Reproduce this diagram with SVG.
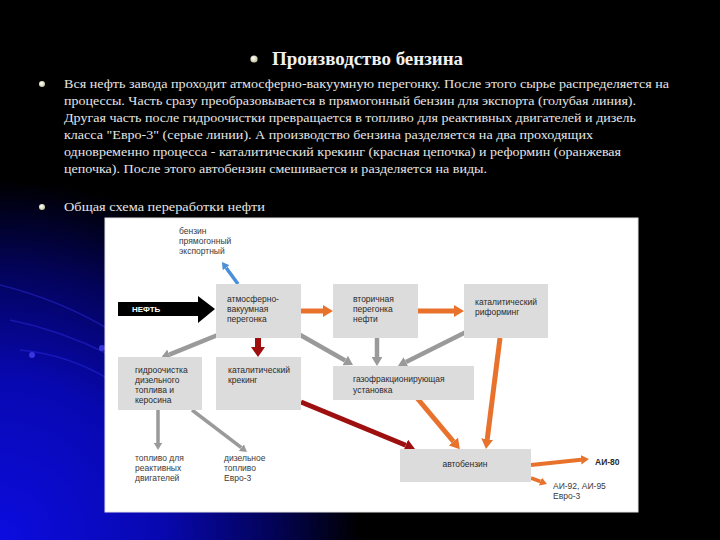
<svg xmlns="http://www.w3.org/2000/svg" width="720" height="540" viewBox="0 0 720 540">
<defs>
<radialGradient id="bg" cx="0" cy="540" r="360" gradientUnits="userSpaceOnUse">
<stop offset="0" stop-color="#0c0ce0"/>
<stop offset="0.45" stop-color="#0808b0"/>
<stop offset="0.75" stop-color="#03035a"/>
<stop offset="1" stop-color="#000000"/>
</radialGradient>
<radialGradient id="bul" cx="0.4" cy="0.4" r="0.6">
<stop offset="0" stop-color="#ffffff"/>
<stop offset="1" stop-color="#c8c8a0"/>
</radialGradient>
<marker id="mg" markerUnits="strokeWidth" viewBox="0 0 10 12" refX="0" refY="6" markerWidth="2" markerHeight="2.4" orient="auto"><path d="M0,0 L10,6 L0,12 z" fill="#9a9a9a"/></marker>
<marker id="mo" markerUnits="strokeWidth" viewBox="0 0 10 12" refX="0" refY="6" markerWidth="2" markerHeight="2.4" orient="auto"><path d="M0,0 L10,6 L0,12 z" fill="#e8722c"/></marker>
<marker id="mr" markerUnits="strokeWidth" viewBox="0 0 10 12" refX="0" refY="6" markerWidth="2" markerHeight="2.4" orient="auto"><path d="M0,0 L10,6 L0,12 z" fill="#9e0f0f"/></marker>
<marker id="mb" markerUnits="strokeWidth" viewBox="0 0 10 12" refX="0" refY="6" markerWidth="2" markerHeight="2.4" orient="auto"><path d="M0,0 L10,6 L0,12 z" fill="#4a8fd8"/></marker>
</defs>
<style>
.body{font-family:"Liberation Serif","Times New Roman",serif;font-size:13px;fill:#e6e6e6}
.title{font-family:"Liberation Serif","Times New Roman",serif;font-size:18px;font-weight:bold;fill:#f0f0f0}
.box{fill:#dcdcdc}
.t{font-family:"Liberation Sans",Arial,sans-serif;font-size:8.5px;fill:#2a2a2a}
.lbl{font-family:"Liberation Sans",Arial,sans-serif;font-size:8.5px;fill:#3a3a3a}
.g{stroke:#9a9a9a;fill:none}
.o{stroke:#e8722c;fill:none}
.r{stroke:#9e0f0f;fill:none}
.b{stroke:#4a8fd8;fill:none}
</style>
<rect width="720" height="540" fill="#000"/>
<rect width="720" height="540" fill="url(#bg)"/>
<g fill="none" stroke="#3a3aff" stroke-opacity="0.35" stroke-width="1.5">
<path d="M0,285 Q60,300 110,330"/>
<path d="M10,320 Q60,330 110,355"/>
<path d="M20,350 Q70,355 110,380"/>
</g>
<circle cx="32" cy="355" r="3" fill="#4a4aff" opacity="0.7"/>
<circle cx="102" cy="348" r="3" fill="#4a4aff" opacity="0.7"/>

<g id="slide-text">
<circle cx="254" cy="59" r="3.6" fill="url(#bul)"/>
<text class="title" x="272" y="65" textLength="191" lengthAdjust="spacingAndGlyphs">Производство бензина</text>
<circle cx="42" cy="84" r="3" fill="url(#bul)"/>
<text class="body" x="64" y="88" textLength="605" lengthAdjust="spacingAndGlyphs">Вся нефть завода проходит атмосферно-вакуумную перегонку. После этого сырье распределяется на</text>
<text class="body" x="64" y="105" textLength="572" lengthAdjust="spacingAndGlyphs">процессы. Часть сразу преобразовывается в прямогонный бензин для экспорта (голубая линия).</text>
<text class="body" x="64" y="122" textLength="572" lengthAdjust="spacingAndGlyphs">Другая часть после гидроочистки превращается в топливо для реактивных двигателей и дизель</text>
<text class="body" x="64" y="139" textLength="529" lengthAdjust="spacingAndGlyphs">класса "Евро-3" (серые линии). А производство бензина разделяется на два проходящих</text>
<text class="body" x="64" y="156" textLength="557" lengthAdjust="spacingAndGlyphs">одновременно процесса - каталитический крекинг (красная цепочка) и реформин (оранжевая</text>
<text class="body" x="64" y="173" textLength="423" lengthAdjust="spacingAndGlyphs">цепочка). После этого автобензин смешивается и разделяется на виды.</text>
<circle cx="42" cy="207" r="3" fill="url(#bul)"/>
<text class="body" x="64" y="211" textLength="201" lengthAdjust="spacingAndGlyphs">Общая  схема переработки нефти</text>
</g>

<rect id="panel" x="105" y="218" width="533" height="294" fill="#ffffff" stroke="#e4e4e4" stroke-width="1"/>

<g id="connectors">
<line class="b" x1="238" y1="284" x2="226.1" y2="267.7" stroke-width="3.5" marker-end="url(#mb)"/>
<polygon points="118,302 198,302 198,296 215,309 198,323 198,316 118,316" fill="#000"/>
<line class="o" x1="301" y1="311" x2="323" y2="311" stroke-width="5" marker-end="url(#mo)"/>
<line class="o" x1="418" y1="311" x2="454" y2="311" stroke-width="5" marker-end="url(#mo)"/>
<polygon points="255,338 261,338 261,347 265,347 258,357 251,347 255,347" fill="#9e0f0f"/>
<line class="g" x1="230" y1="330" x2="169.3" y2="354.6" stroke-width="4.5" marker-end="url(#mg)"/>
<line class="g" x1="295" y1="332" x2="345.2" y2="360.5" stroke-width="4.5" marker-end="url(#mg)"/>
<line class="g" x1="377" y1="338" x2="377" y2="357" stroke-width="4.5" marker-end="url(#mg)"/>
<line class="g" x1="470" y1="330" x2="406" y2="362" stroke-width="4.5" marker-end="url(#mg)"/>
<line class="o" x1="500" y1="338" x2="487.25" y2="439.1" stroke-width="5" marker-end="url(#mo)"/>
<line class="o" x1="417" y1="398" x2="453.4" y2="441.5" stroke-width="5" marker-end="url(#mo)"/>
<line class="r" x1="301" y1="402" x2="405.75" y2="445.2" stroke-width="5" marker-end="url(#mr)"/>
<line class="o" x1="531" y1="465" x2="581" y2="459.8" stroke-width="4" marker-end="url(#mo)"/>
<line class="o" x1="531" y1="478" x2="540.4" y2="481.5" stroke-width="3.5" marker-end="url(#mo)"/>
<line class="g" x1="158" y1="410" x2="158" y2="443" stroke-width="3.5" marker-end="url(#mg)"/>
<line class="g" x1="192" y1="410" x2="241.4" y2="447.7" stroke-width="3.5" marker-end="url(#mg)"/>
</g>

<g id="neft"><text x="132" y="312" font-family="Liberation Sans,Arial,sans-serif" font-size="8" font-weight="bold" fill="#fff">НЕФТЬ</text></g>

<g id="export-label">
<text class="lbl" x="179" y="234">бензин</text>
<text class="lbl" x="179" y="244">прямогонный</text>
<text class="lbl" x="179" y="254">экспортный</text>
</g>

<g id="atm">
<rect class="box" x="216" y="284" width="85" height="54"/>
<text class="t" x="227" y="302">атмосферно-</text>
<text class="t" x="227" y="312">вакуумная</text>
<text class="t" x="227" y="322">перегонка</text>
</g>
<g id="secondary">
<rect class="box" x="333" y="284" width="85" height="54"/>
<text class="t" x="353" y="302">вторичная</text>
<text class="t" x="353" y="312">перегонка</text>
<text class="t" x="353" y="322">нефти</text>
</g>
<g id="reforming">
<rect class="box" x="464" y="284" width="84" height="54"/>
<text class="t" x="475" y="305">каталитический</text>
<text class="t" x="475" y="315">риформинг</text>
</g>
<g id="hydro">
<rect class="box" x="118" y="357" width="84" height="53"/>
<text class="t" x="135" y="373">гидроочистка</text>
<text class="t" x="135" y="383">дизельного</text>
<text class="t" x="135" y="393">топлива и</text>
<text class="t" x="135" y="403">керосина</text>
</g>
<g id="cracking">
<rect class="box" x="216" y="357" width="85" height="53"/>
<text class="t" x="228" y="373">каталитический</text>
<text class="t" x="228" y="383">крекинг</text>
</g>
<g id="gasfrac">
<rect class="box" x="333" y="366" width="141" height="34"/>
<text class="t" x="353" y="382">газофракционирующая</text>
<text class="t" x="353" y="393">установка</text>
</g>
<g id="autogas">
<rect class="box" x="400" y="449" width="131" height="33"/>
<text class="t" x="465" y="467" text-anchor="middle">автобензин</text>
</g>
<g id="jet">
<text class="lbl" x="135" y="461">топливо для</text>
<text class="lbl" x="135" y="471">реактивных</text>
<text class="lbl" x="135" y="481">двигателей</text>
</g>
<g id="diesel">
<text class="lbl" x="224" y="461">дизельное</text>
<text class="lbl" x="224" y="471">топливо</text>
<text class="lbl" x="224" y="481">Евро-3</text>
</g>
<g id="ai80"><text class="t" x="595" y="465" font-weight="bold">АИ-80</text></g>
<g id="ai92">
<text class="lbl" x="553" y="489">АИ-92, АИ-95</text>
<text class="lbl" x="553" y="499">Евро-3</text>
</g>
</svg>
